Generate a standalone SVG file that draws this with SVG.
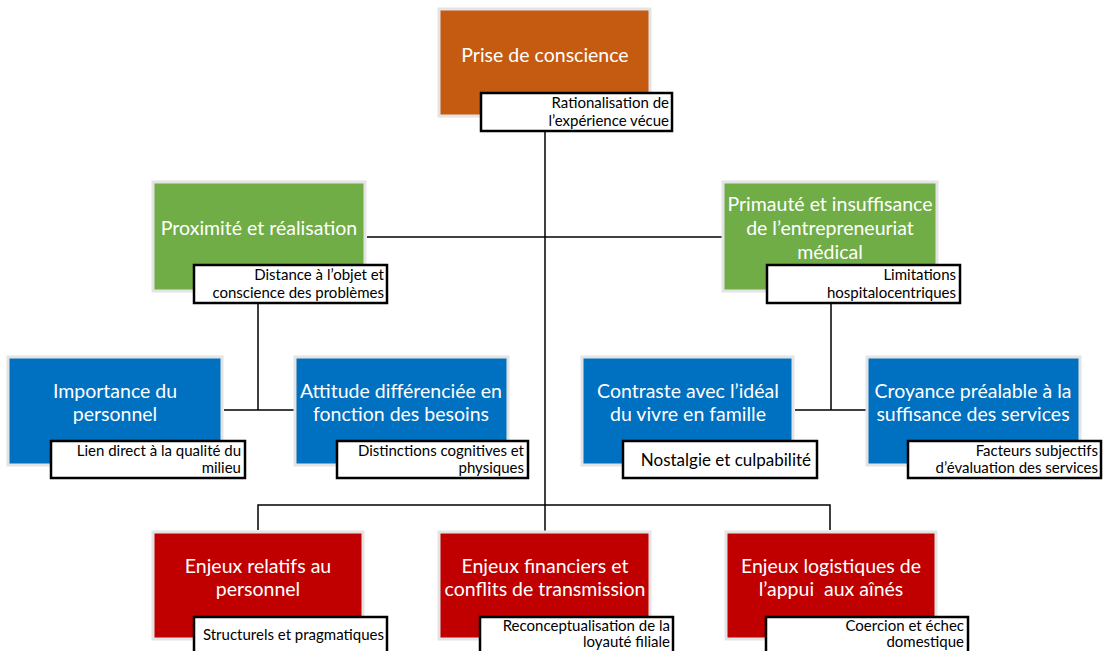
<svg xmlns="http://www.w3.org/2000/svg" width="1104" height="651" viewBox="0 0 1104 651">
<style>
.box{stroke:#E4E4E4;stroke-width:3}
.orange{fill:#C55A11}
.green{fill:#70AD47}
.blue{fill:#0070C0}
.red{fill:#C00000}
.cap{fill:#FFFFFF;stroke:#000000;stroke-width:2.5}
.t{font-family:Lato,"Open Sans",sans-serif;font-size:19.5px;fill:#FFFFFF;text-anchor:middle}
.c{font-family:Lato,"Open Sans",sans-serif;font-size:15px;fill:#000000;text-anchor:end}
.c2{font-family:Lato,"Open Sans",sans-serif;font-size:17px;fill:#000000;text-anchor:end}
.ln{stroke:#000000;stroke-width:1.5;fill:none}
</style>
<rect width="1104" height="651" fill="#FFFFFF"/>
<g id="connectors">
<path class="ln" d="M545 131 V532"/>
<path class="ln" d="M367 237 H722"/>
<path class="ln" d="M258 303 V410 M224 410 H294"/>
<path class="ln" d="M831 303 V410 M795 410 H866"/>
<path class="ln" d="M258 530 V505 H830 V530"/>
</g>
<g id="n-prise">
<rect class="box orange" x="439" y="9" width="211" height="107"/>
<text class="t" x="545" y="62">Prise de conscience</text>
<rect class="cap" x="481" y="93" width="191" height="38"/>
<text class="c" x="669" y="108">Rationalisation de</text>
<text class="c" x="669" y="126">l’expérience vécue</text>
</g>
<g id="n-proximite">
<rect class="box green" x="153" y="182" width="212" height="109"/>
<text class="t" x="259" y="235">Proximité et réalisation</text>
<rect class="cap" x="194" y="265" width="193" height="38"/>
<text class="c" x="384" y="280">Distance à l’objet et</text>
<text class="c" x="384" y="298">conscience des problèmes</text>
</g>
<g id="n-primaute">
<rect class="box green" x="723" y="182" width="214" height="109"/>
<text class="t" x="830" y="211">Primauté et insuffisance</text>
<text class="t" x="830" y="235">de l’entrepreneuriat</text>
<text class="t" x="830" y="259">médical</text>
<rect class="cap" x="767" y="265" width="193" height="38"/>
<text class="c" x="956" y="280">Limitations</text>
<text class="c" x="956" y="298">hospitalocentriques</text>
</g>
<g id="n-importance">
<rect class="box blue" x="8" y="357" width="214" height="108"/>
<text class="t" x="115" y="398">Importance du</text>
<text class="t" x="115" y="421">personnel</text>
<rect class="cap" x="51" y="441" width="194" height="37"/>
<text class="c" x="241" y="456">Lien direct à la qualité du</text>
<text class="c" x="241" y="473">milieu</text>
</g>
<g id="n-attitude">
<rect class="box blue" x="295" y="357" width="213" height="108"/>
<text class="t" x="401" y="398">Attitude différenciée en</text>
<text class="t" x="401" y="421">fonction des besoins</text>
<rect class="cap" x="337" y="441" width="191" height="37"/>
<text class="c" x="524" y="456">Distinctions cognitives et</text>
<text class="c" x="524" y="473">physiques</text>
</g>
<g id="n-contraste">
<rect class="box blue" x="582" y="357" width="211" height="108"/>
<text class="t" x="688" y="398">Contraste avec l’idéal</text>
<text class="t" x="688" y="421">du vivre en famille</text>
<rect class="cap" x="623" y="441" width="194" height="37"/>
<text class="c2" x="811" y="466">Nostalgie et culpabilité</text>
</g>
<g id="n-croyance">
<rect class="box blue" x="867" y="357" width="213" height="108"/>
<text class="t" x="973" y="398">Croyance préalable à la</text>
<text class="t" x="973" y="421">suffisance des services</text>
<rect class="cap" x="908" y="441" width="193" height="37"/>
<text class="c" x="1098" y="456">Facteurs subjectifs</text>
<text class="c" x="1098" y="473">d’évaluation des services</text>
</g>
<g id="n-enjeux-personnel">
<rect class="box red" x="153" y="532" width="210" height="107"/>
<text class="t" x="258" y="573">Enjeux relatifs au</text>
<text class="t" x="258" y="596">personnel</text>
<rect class="cap" x="194" y="617" width="193" height="45"/>
<text class="c" x="384" y="640">Structurels et pragmatiques</text>
</g>
<g id="n-enjeux-financiers">
<rect class="box red" x="439" y="532" width="211" height="107"/>
<text class="t" x="545" y="573">Enjeux financiers et</text>
<text class="t" x="545" y="596">conflits de transmission</text>
<rect class="cap" x="480" y="617" width="193" height="45"/>
<text class="c" x="670" y="631">Reconceptualisation de la</text>
<text class="c" x="670" y="647">loyauté filiale</text>
</g>
<g id="n-enjeux-logistiques">
<rect class="box red" x="726" y="532" width="210" height="107"/>
<text class="t" x="831" y="573">Enjeux logistiques de</text>
<text class="t" x="831" y="596" style="white-space:pre">l’appui  aux aînés</text>
<rect class="cap" x="766" y="617" width="202" height="45"/>
<text class="c" x="964" y="631">Coercion et échec</text>
<text class="c" x="964" y="647">domestique</text>
</g>
</svg>
